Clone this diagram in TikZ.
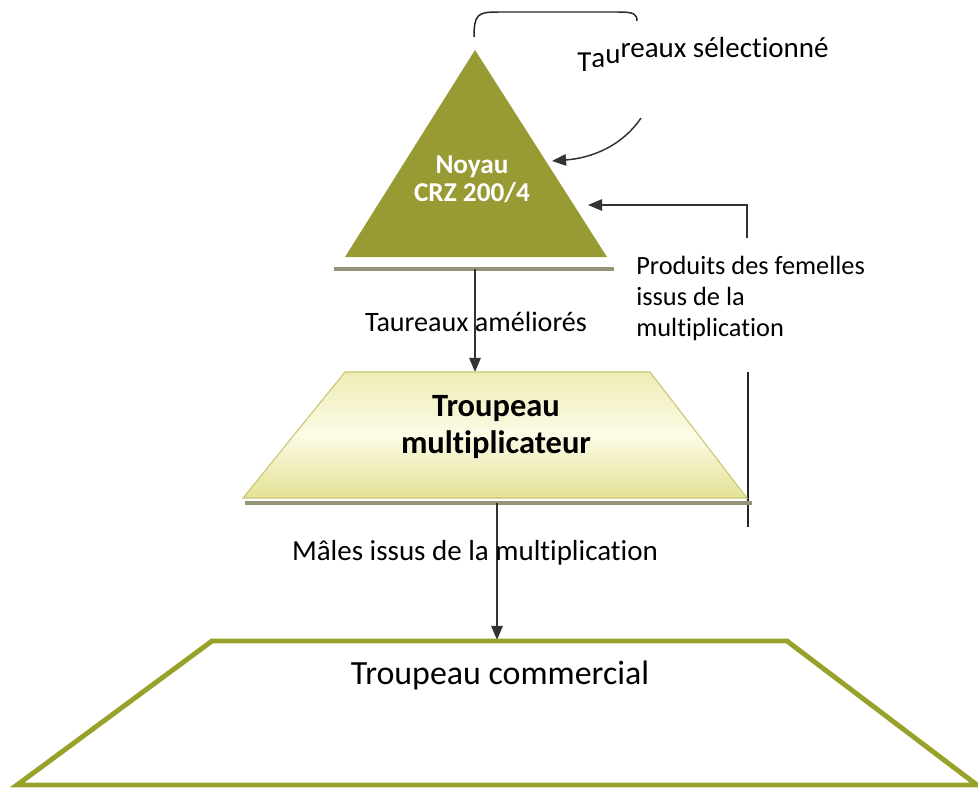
\documentclass[tikz,border=0pt]{standalone}
\usepackage{fontspec}
\setmainfont{Carlito}[Ligatures=NoCommon]
\usetikzlibrary{arrows.meta}
\definecolor{noyaugreen}{RGB}{152,154,52}
\definecolor{barshadow}{RGB}{150,148,118}
\definecolor{multlight}{RGB}{252,251,230}
\definecolor{multdark}{RGB}{228,226,150}
\definecolor{multedge}{RGB}{200,198,110}
\definecolor{commline}{RGB}{152,162,42}
\newcommand{\drawbar}[3]{%
\draw[barshadow,line width=2.4pt] (#1,#3) -- (#2,#3); 
}
\newcommand{\fsize}[2]{\fontsize{#1}{#2}\selectfont}

\begin{document}
\begin{tikzpicture}[x=0.02cm,y=-0.02cm]
\useasboundingbox (0,0) rectangle (978,788);

\tikzstyle{flow}=[draw=black!80,line width=0.85pt,-{Triangle[length=8pt,width=6.5pt]}]
\tikzstyle{wire}=[draw=black!85,line width=0.85pt]
\tikzstyle{note}=[font=\fsize{15}{17.5},inner sep=0pt]

% noyau
\fill[noyaugreen] (475,50) -- (607,257) -- (345,257) -- cycle;
\node[font=\bfseries\fsize{15.5}{16},text=white,align=center] (noyau) at (472,179) {Noyau\\CRZ 200/4};
\drawbar{334}{614}{269}

% boucle des taureaux selectionnes
\coordinate (loopA) at (474,37);
\coordinate (loopB) at (637,21);
\draw[wire] (loopA) .. controls (474,14) and (478,12) .. (498,12) -- (618,12) .. controls (634,12) and (637,14) .. (loopB);
\node[note,font=\fsize{16.5}{18},anchor=base west] (selection) at (577,57) {\raisebox{-8pt}{T}\raisebox{-6pt}{a}\raisebox{-3.5pt}{u}reaux sélectionné};
\coordinate (selStart) at (641,118);
\coordinate (selEnd) at (552,161);
\draw[flow] (selStart) .. controls (622,146) and (592,158) .. (selEnd);

% retour des femelles
\coordinate (femStart) at (747,238);
\coordinate (femEnd) at (588,205);
\draw[flow] (femStart) |- (femEnd);
\node[note,align=left,anchor=north west] (produits) at (636,256) {Produits des femelles\\issus de la\\multiplication};
\coordinate (femLow) at (748,372);
\coordinate (femBase) at (748,527);
\draw[wire] (femLow) -- (femBase);

% multiplicateur
\coordinate (barN) at (475,269);
\coordinate (multN) at (475,372);
\draw[flow] (barN) -- (multN);
\node[note,font=\fsize{16}{18}] (ameliores) at (476,322) {Taureaux améliorés};

\shade[top color=multdark!60!multlight,bottom color=multdark,middle color=multlight,draw=multedge,line width=0.6pt] (345,372) -- (650,372) -- (747,498) -- (243,498) -- cycle;
\drawbar{245}{752}{503}
\node[font=\bfseries\fsize{18.5}{21},align=center] (mult) at (496,427) {Troupeau\\multiplicateur};

% commercial
\coordinate (multS) at (497,503);
\coordinate (commN) at (497,640);
\draw[flow] (multS) -- (commN);
\node[note,font=\fsize{16.5}{18}] (males) at (475,553) {Mâles issus de la multiplication};

\draw[commline,line width=2.8pt,fill=white] (212,641) -- (787,641) -- (977,785) -- (17,785) -- cycle;
\node[font=\fsize{19.3}{21}] (comm) at (500,675) {Troupeau commercial};

\end{tikzpicture}
\end{document}
